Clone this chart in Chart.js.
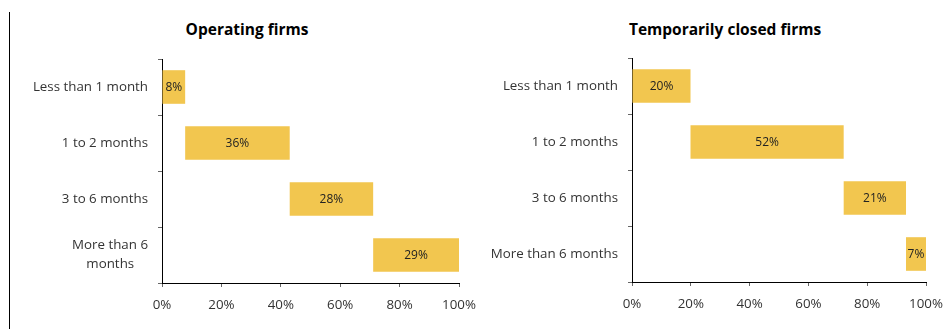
<!DOCTYPE html>
<html>
<head>
<meta charset="utf-8">
<script src="https://cdn.jsdelivr.net/npm/chart.js@4.4.1/dist/chart.umd.min.js"></script>
<style>
  body { margin: 0; background: #fff; }
  #wrap { position: relative; width: 949px; height: 329px; overflow: hidden; font-family: 'Open Sans', sans-serif; }
  .panel { position: absolute; top: 0; height: 329px; }
  .title { position: absolute; top: 18px; font-weight: bold; font-size: 15.5px; color: #000; white-space: nowrap; transform: translateX(-50%); }
  #divider { position: absolute; left: 9px; top: 12px; width: 1px; height: 317px; background: #000; }
</style>
</head>
<body>
<div id="wrap">
  <div id="divider"></div>
  <div class="title" style="left:247px">Operating firms</div>
  <div class="title" style="left:725px">Temporarily closed firms</div>
  <div class="panel" style="left:0;width:480px"><canvas id="chart-operating"></canvas></div>
  <div class="panel" style="left:470px;width:479px"><canvas id="chart-closed"></canvas></div>
</div>
<script>
// categorie (asse verticale)
const categories = ['Less than 1 month', '1 to 2 months', '3 to 6 months', 'More than 6 months'];
// nel pannello di sinistra l'ultima etichetta va a capo (seconda riga centrata con spazi)
const categoriesWrapped = ['Less than 1 month', '1 to 2 months', '3 to 6 months',
  ['More than 6', 'months\u00a0\u00a0\u00a0\u00a0']];

// imprese operative: quota mostrata + inizio/fine della barra
const operatingShares = [8, 36, 28, 29];
const operatingStart = [0, 7.8, 43, 71.1];
const operatingEnd = [7.8, 43, 71.1, 100];

// imprese temporaneamente chiuse
const closedShares = [20, 52, 21, 7];
const closedStart = [0, 19.9, 72, 93.2];
const closedEnd = [19.9, 72, 93.2, 100];

// tick asse orizzontale
const xTicks = [0, 20, 40, 60, 80, 100];

const barColor = '#F2C64F';
const tickFont = { family: 'Open Sans', size: 13.33, lineHeight: 1.4 };

// scrive la percentuale al centro di ogni barra
const barLabels = {
  id: 'barLabels',
  afterDatasetsDraw(chart, args, opts) {
    const ctx = chart.ctx;
    const meta = chart.getDatasetMeta(0);
    ctx.save();
    ctx.font = '12px "Open Sans"';
    ctx.fillStyle = '#222';
    ctx.textAlign = 'center';
    ctx.textBaseline = 'middle';
    meta.data.forEach((bar, i) => {
      const p = bar.getCenterPoint();
      ctx.fillText(opts.values[i] + '%', p.x, p.y + 1);
    });
    ctx.restore();
  }
};

function makePanel(id, labels, starts, ends, shares, pad) {
  return new Chart(document.getElementById(id), {
    type: 'bar',
    data: {
      labels: labels,
      datasets: [{
        data: starts.map((s, i) => [s, ends[i]]),
        backgroundColor: barColor,
        borderWidth: 0,
        barPercentage: 0.6,
        categoryPercentage: 1.0
      }]
    },
    plugins: [barLabels],
    options: {
      indexAxis: 'y',
      responsive: true,
      maintainAspectRatio: false,
      animation: false,
      layout: { padding: { left: 0, top: pad.top, right: pad.right, bottom: pad.bottom } },
      plugins: {
        legend: { display: false },
        tooltip: { enabled: false },
        barLabels: { values: shares }
      },
      scales: {
        x: {
          min: 0,
          max: 100,
          afterBuildTicks: s => { s.ticks = xTicks.map(v => ({ value: v })); },
          // altezza fissa, e niente margine automatico per l'etichetta "100%"
          afterFit: s => { s.height = 30; s.paddingLeft = 0; s.paddingRight = 0; },
          ticks: {
            callback: v => v + '%',
            color: '#333',
            padding: 9,
            maxRotation: 0,
            font: tickFont
          },
          grid: { drawOnChartArea: false, tickLength: 4, color: '#666' },
          border: { color: '#000', width: 1 }
        },
        y: {
          afterFit: s => { s.width = 162; s.paddingTop = 0; s.paddingBottom = 0; },
          ticks: {
            color: '#333',
            padding: 10,
            font: tickFont
          },
          grid: { drawOnChartArea: false, tickLength: 4, color: '#666' },
          border: { color: '#000', width: 1 }
        }
      }
    }
  });
}

makePanel('chart-operating', categoriesWrapped, operatingStart, operatingEnd, operatingShares,
  { top: 59, right: 21, bottom: 16 });
makePanel('chart-closed', categories, closedStart, closedEnd, closedShares,
  { top: 58, right: 23, bottom: 17 });
</script>
</body>
</html>
